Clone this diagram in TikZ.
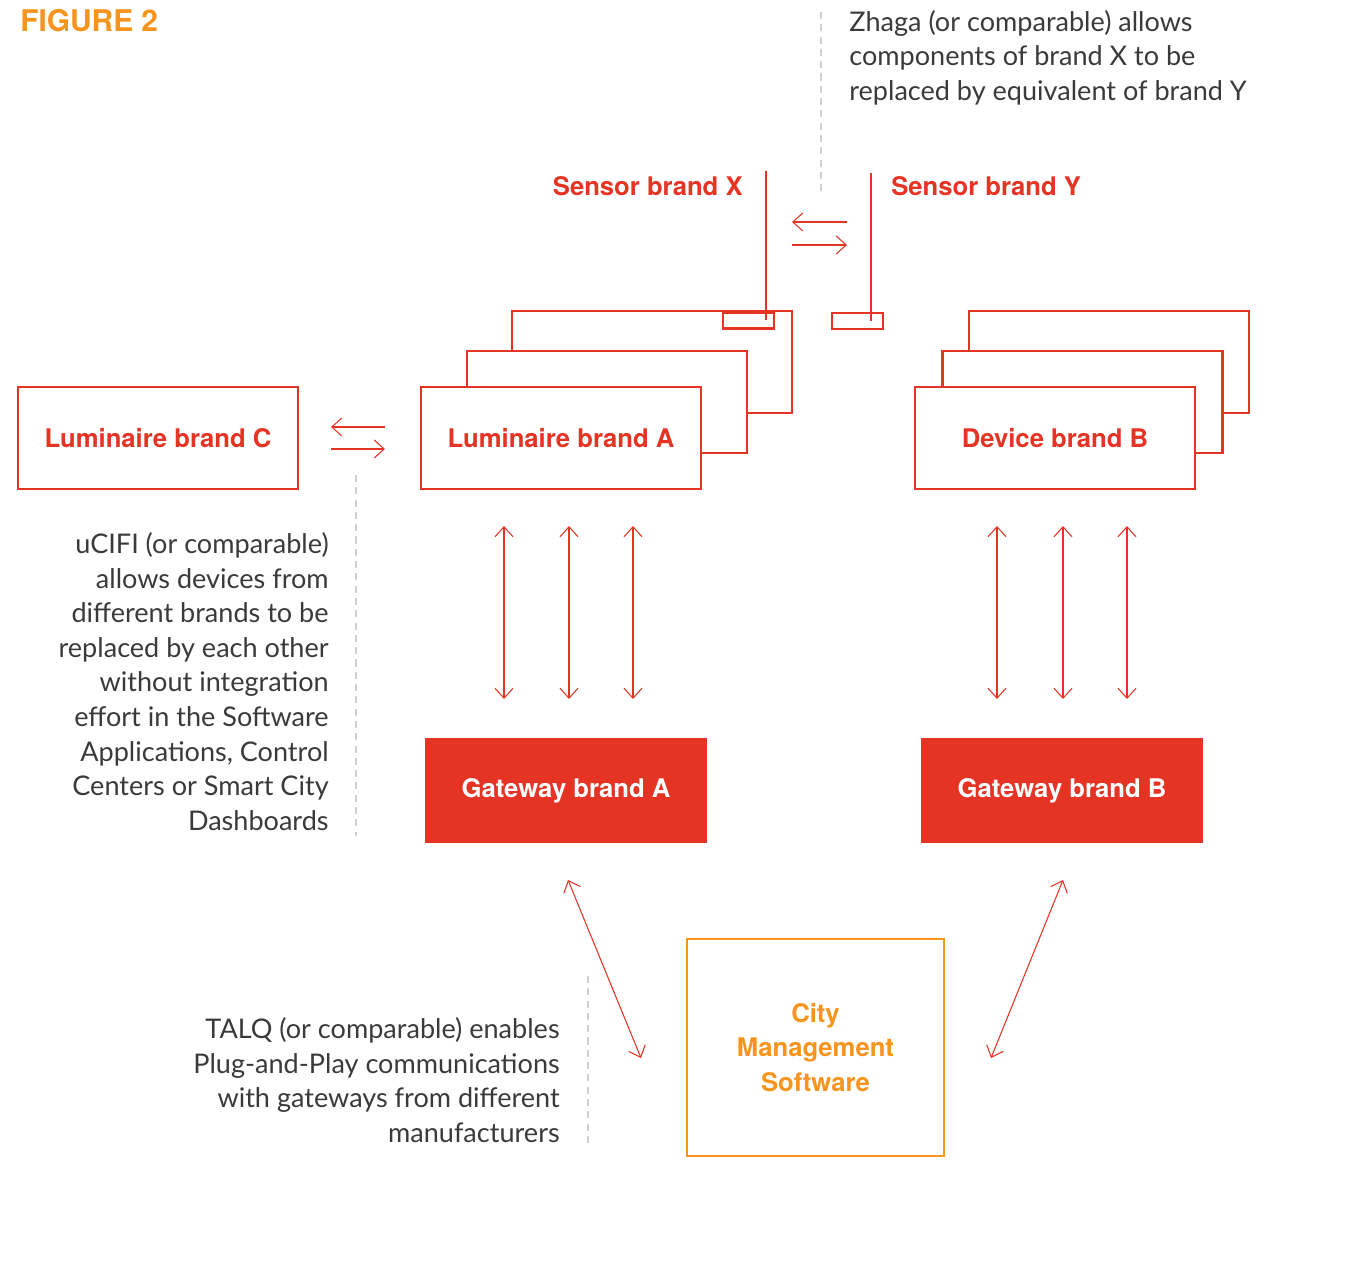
\documentclass[tikz,border=0pt]{standalone}
\usepackage{fontspec}
\setmainfont{Lato}
\newfontfamily\labelfont{TeX Gyre Heros}
\usetikzlibrary{arrows.meta}

\definecolor{figred}{HTML}{E53324}
\definecolor{figorange}{HTML}{F7941D}
\definecolor{figgrey}{HTML}{3A3A3A}
\definecolor{dashgrey}{HTML}{CFCFCF}

\tikzset{
  box/.style = {draw = figred, line width = 1.4pt, fill = white, minimum width = 5.6cm, minimum height = 2.04cm, inner sep = 0pt, font = \labelfont\bfseries\fontsize{14.6}{17}\selectfont, text = figred},
  gatebox/.style = {box, fill = figred, text = white},
  slot/.style = {draw = figred, line width = 1.4pt, fill = white, minimum width = 1.02cm, minimum height = 0.32cm, inner sep = 0pt},
  link/.style = {draw = figred, line width = 0.6pt, {Straight Barb[length = 2mm, width = 3.6mm]}-{Straight Barb[length = 2mm, width = 3.6mm]}},
  oneway/.style = {draw = figred, line width = 0.6pt, -{Straight Barb[length = 2mm, width = 3.6mm]}},
  note/.style = {text = figgrey, inner sep = 0pt, font = \fontsize{15.4}{19.7}\selectfont},
  guide/.style = {draw = dashgrey, line width = 0.6pt, dash pattern = on 4pt off 3pt}
}

\begin{document}
\begin{tikzpicture}[x = 0.02cm, y = -0.02cm]
\useasboundingbox (0, 0) rectangle (1356, 1273);

% title
\node[anchor = west, inner sep = 0pt, text = figorange, font = \labelfont\bfseries\fontsize{17}{20}\selectfont] (title) at (20, 21) {FIGURE 2};

% luminaire stack, brand A
\node[box] (lumA3) at (652, 362) {};
\node[box] (lumA2) at (607, 402) {};
\node[box] (lumA) at (561, 438) {Luminaire brand A};
\node[slot] (slotX) at (748.5, 320.5) {};

% device stack, brand B
\node[box] (devB3) at (1109, 362) {};
\node[box] (devB2) at (1082.5, 402) {};
\node[box] (devB) at (1055, 438) {Device brand B};
\node[slot] (slotY) at (857.5, 321) {};

\node[box] (lumC) at (158, 438) {Luminaire brand C};

% gateways and CMS
\node[gatebox] (gwA) at (566, 790.5) {Gateway brand A};
\node[gatebox] (gwB) at (1062, 790.5) {Gateway brand B};
\node[draw = figorange, line width = 1.4pt, minimum width = 5.14cm, minimum height = 4.34cm, align = center, text = figorange, font = \labelfont\bfseries\fontsize{14.6}{19.7}\selectfont] (cms) at (815.5, 1047.5) {City\\Management\\Software};

% sensors
\node[anchor = east, inner sep = 0pt, text = figred, font = \labelfont\bfseries\fontsize{14.6}{17}\selectfont] (senX) at (743, 186) {Sensor brand X};
\node[anchor = west, inner sep = 0pt, text = figred, font = \labelfont\bfseries\fontsize{14.6}{17}\selectfont] (senY) at (891, 186) {Sensor brand Y};
\coordinate (senXtop) at (766, 171);
\coordinate (senYtop) at (871, 173);
\draw[figred, line width = 0.9pt] (senXtop) -- (senXtop |- slotX.center);
\draw[figred, line width = 0.9pt] (senYtop) -- (senYtop |- slotY.center);

% swap arrows
\coordinate (zl) at (792, 222);
\coordinate (zr) at (847, 222);
\coordinate (zl2) at (792, 245);
\coordinate (zr2) at (847, 245);
\draw[oneway] (zr) -- (zl);
\draw[oneway] (zl2) -- (zr2);
\coordinate (ul) at (331, 427);
\coordinate (ur) at (385, 427);
\coordinate (ul2) at (331, 449);
\coordinate (ur2) at (385, 449);
\draw[oneway] (ur) -- (ul);
\draw[oneway] (ul2) -- (ur2);

% device to gateway links
\foreach \x in {504, 569, 633} {
  \coordinate (a\x) at (\x, 526);
  \draw[link] (a\x) -- ++(0, 173);
}
\foreach \x in {997, 1063, 1127} {
  \coordinate (b\x) at (\x, 526);
  \draw[link] (b\x) -- ++(0, 173);
}

% gateway to CMS links
\coordinate (gwAlow) at (568, 880);
\coordinate (cmsL) at (641, 1058);
\coordinate (gwBlow) at (1063, 880);
\coordinate (cmsR) at (991, 1058);
\draw[link] (gwAlow) -- (cmsL);
\draw[link] (gwBlow) -- (cmsR);

% notes
\node[note, anchor = west, align = left] (zhaga) at (849, 57.5) {Zhaga (or comparable) allows\\components of brand X to be\\replaced by equivalent of brand Y};
\node[note, anchor = east, align = right] (ucifi) at (329, 681.5) {uCIFI (or comparable)\\allows devices from\\different brands to be\\replaced by each other\\without integration\\effort in the Software\\Applications, Control\\Centers or Smart City\\Dashboards};
\node[note, anchor = east, align = right] (talq) at (560, 1080) {TALQ (or comparable) enables\\Plug-and-Play communications\\with gateways from different\\manufacturers};

% guide lines
\coordinate (g1) at (821, 12);
\coordinate (g2) at (356, 475);
\coordinate (g3) at (588, 976);
\draw[guide] (g1) -- ++(0, 181);
\draw[guide] (g2) -- ++(0, 361);
\draw[guide] (g3) -- ++(0, 171);
\end{tikzpicture}
\end{document}
